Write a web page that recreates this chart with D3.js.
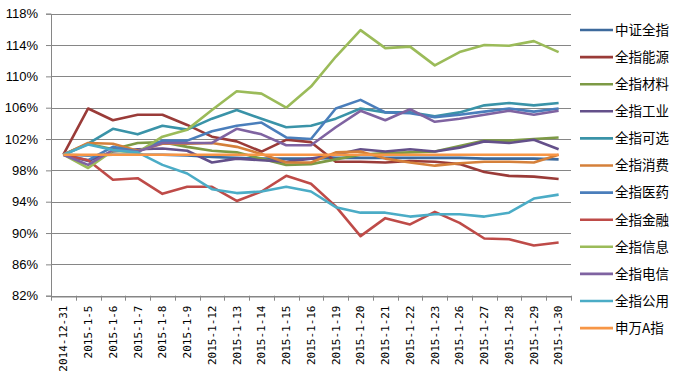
<!DOCTYPE html>
<html>
<head>
<meta charset="utf-8">
<script src="https://cdn.jsdelivr.net/npm/d3@7"></script>
<style>
    body { margin: 0; background: #fff; }
    svg { display: block; }
</style>
</head>
<body>
<svg id="graphe" width="675" height="377"></svg>
<script>

//-------------------Données----------------------------------------

var dates = ["2014-12-31", "2015-1-5", "2015-1-6", "2015-1-7", "2015-1-8", "2015-1-9", "2015-1-12",
    "2015-1-13", "2015-1-14", "2015-1-15", "2015-1-16", "2015-1-19", "2015-1-20", "2015-1-21",
    "2015-1-22", "2015-1-23", "2015-1-26", "2015-1-27", "2015-1-28", "2015-1-29", "2015-1-30"];

var noms = ["中证全指", "全指能源", "全指材料", "全指工业", "全指可选", "全指消费",
    "全指医药", "全指金融", "全指信息", "全指电信", "全指公用", "申万A指"];

var couleurs = ["#3d6a9c", "#9a3b38", "#7d9a45", "#64508a", "#3a93a8", "#d5803a",
    "#4a7ebb", "#be4b48", "#9bbb59", "#7f63a1", "#4bacc6", "#f79646"];

var zhongzheng = [100, 99.9, 100.0, 100.0, 100.0, 99.9, 99.7, 99.6, 99.5, 99.5, 99.5, 99.6, 99.6, 99.6, 99.6, 99.6, 99.6, 99.5, 99.5, 99.5, 99.4];
var energie = [100, 105.9, 104.4, 105.1, 105.1, 103.8, 102.3, 101.7, 100.4, 101.9, 101.6, 99.1, 99.1, 99.0, 99.2, 99.1, 98.8, 97.8, 97.3, 97.2, 96.9];
var materiaux = [100, 101.4, 100.7, 101.5, 101.6, 101.0, 100.5, 100.3, 99.5, 98.7, 98.8, 99.4, 100.0, 100.2, 100.3, 100.4, 101.1, 101.8, 101.8, 102.0, 102.2];
var industrie = [100, 99.2, 100.4, 100.7, 100.8, 100.5, 99.0, 99.5, 99.3, 99.1, 99.5, 100.0, 100.7, 100.4, 100.7, 100.4, 100.9, 101.7, 101.5, 101.9, 100.7];
var optionnel = [100, 101.4, 103.3, 102.6, 103.7, 103.2, 104.6, 105.7, 104.6, 103.5, 103.7, 104.6, 105.9, 105.4, 105.4, 104.9, 105.4, 106.3, 106.6, 106.3, 106.6];
var conso = [100, 101.5, 101.4, 100.5, 101.4, 101.4, 101.5, 101.0, 100.1, 99.0, 99.0, 100.3, 100.4, 99.5, 99.0, 98.6, 98.9, 99.1, 99.1, 99.0, 100.0];
var sante = [100, 99.3, 101.0, 100.4, 101.8, 101.8, 103.0, 103.7, 104.1, 102.2, 102.0, 105.9, 107.0, 105.4, 105.3, 104.8, 105.1, 105.5, 105.9, 105.5, 105.9];
var finance = [100, 99.3, 96.8, 97.0, 95.0, 95.9, 95.9, 94.1, 95.3, 97.3, 96.3, 93.4, 89.6, 91.9, 91.1, 92.7, 91.3, 89.3, 89.2, 88.4, 88.8];
var information = [100, 98.3, 100.5, 100.3, 102.3, 103.2, 105.7, 108.1, 107.8, 106.0, 108.7, 112.5, 115.9, 113.6, 113.8, 111.4, 113.1, 114.0, 113.9, 114.5, 113.1];
var telecom = [100, 98.7, 100.6, 100.4, 101.5, 101.5, 101.5, 103.3, 102.6, 101.2, 101.2, 103.5, 105.6, 104.4, 105.8, 104.2, 104.6, 105.1, 105.6, 105.1, 105.6];
var utilites = [100, 101.3, 100.6, 100.3, 98.7, 97.6, 95.6, 95.1, 95.3, 95.9, 95.3, 93.3, 92.6, 92.6, 92.1, 92.4, 92.4, 92.1, 92.6, 94.4, 94.9];
var shenwan = [100, 100, 100, 100, 100, 100, 100, 100, 100, 100, 100, 100, 100, 100, 100, 100, 100, 100, 100, 100, 100];

var series = [zhongzheng, energie, materiaux, industrie, optionnel, conso,
    sante, finance, information, telecom, utilites, shenwan];

var ticksY = [82, 86, 90, 94, 98, 102, 106, 110, 114, 118];

//-------------------Echelles----------------------------------------

var svg = d3.select("#graphe");
var gauche = 51, droite = 571, haut = 13.7, bas = 295.7;

var x = d3.scaleBand().domain(dates).range([gauche, droite]);
var y = d3.scaleLinear().domain([82, 118]).range([bas, haut]);

//-------------------Grille et axes----------------------------------------

var axeY = svg.append("g")
    .attr("transform", "translate(" + gauche + ",0)")
    .call(d3.axisLeft(y).tickValues(ticksY).tickSize(5).tickPadding(8).tickFormat(function(d) { return d + "%"; }));
axeY.select(".domain").attr("stroke", "#868686");
axeY.selectAll(".tick line").attr("stroke", "#868686");
axeY.selectAll(".tick text")
    .attr("fill", "#000")
    .style("font-family", "'Liberation Sans', Arial, sans-serif")
    .style("font-size", "13px");

svg.append("g").selectAll("line")
    .data(ticksY)
    .enter()
    .append("line")
    .attr("x1", gauche)
    .attr("x2", droite)
    .attr("y1", function(d) { return Math.round(y(d)) + 0.5; })
    .attr("y2", function(d) { return Math.round(y(d)) + 0.5; })
    .attr("stroke", "#868686")
    .attr("stroke-width", 1);

var axeX = svg.append("g")
    .attr("transform", "translate(0," + (Math.round(bas) + 0.5) + ")")
    .call(d3.axisBottom(x).tickSize(0).tickPadding(0));
axeX.select(".domain").attr("stroke", "#868686");
axeX.selectAll(".tick text")
    .attr("transform", "rotate(-90)")
    .attr("x", -9)
    .attr("y", 0)
    .attr("dy", "0.35em")
    .attr("text-anchor", "end")
    .attr("fill", "#000")
    .style("font-family", "'DejaVu Sans Mono', monospace")
    .style("font-size", "11px");

// petits traits entre les catégories
svg.append("g").selectAll("line")
    .data(d3.range(dates.length + 1))
    .enter()
    .append("line")
    .attr("x1", function(i) { return Math.round(gauche + i * x.step()) + 0.5; })
    .attr("x2", function(i) { return Math.round(gauche + i * x.step()) + 0.5; })
    .attr("y1", bas)
    .attr("y2", bas + 5)
    .attr("stroke", "#868686");

//-------------------Courbes----------------------------------------

var ligne = d3.line()
    .x(function(d, i) { return x(dates[i]) + x.bandwidth() / 2; })
    .y(function(d) { return y(d); });

for (var s = 0; s < series.length; s++) {
    svg.append("path")
        .datum(series[s])
        .attr("d", ligne)
        .attr("fill", "none")
        .attr("stroke", couleurs[s])
        .attr("stroke-width", 2.6)
        .attr("stroke-linejoin", "round");
}

//-------------------Légende----------------------------------------

var legende = svg.append("g");
for (var k = 0; k < noms.length; k++) {
    var ly = 30 + k * 27.1;
    legende.append("line")
        .attr("x1", 580)
        .attr("x2", 613)
        .attr("y1", ly)
        .attr("y2", ly)
        .attr("stroke", couleurs[k])
        .attr("stroke-width", 2.6);
    legende.append("text")
        .attr("x", 615)
        .attr("y", ly)
        .attr("dy", "0.36em")
        .attr("fill", "#000")
        .style("font-family", "'Noto Sans CJK SC', sans-serif")
        .style("font-size", "13.5px")
        .text(noms[k]);
}

</script>
</body>
</html>
